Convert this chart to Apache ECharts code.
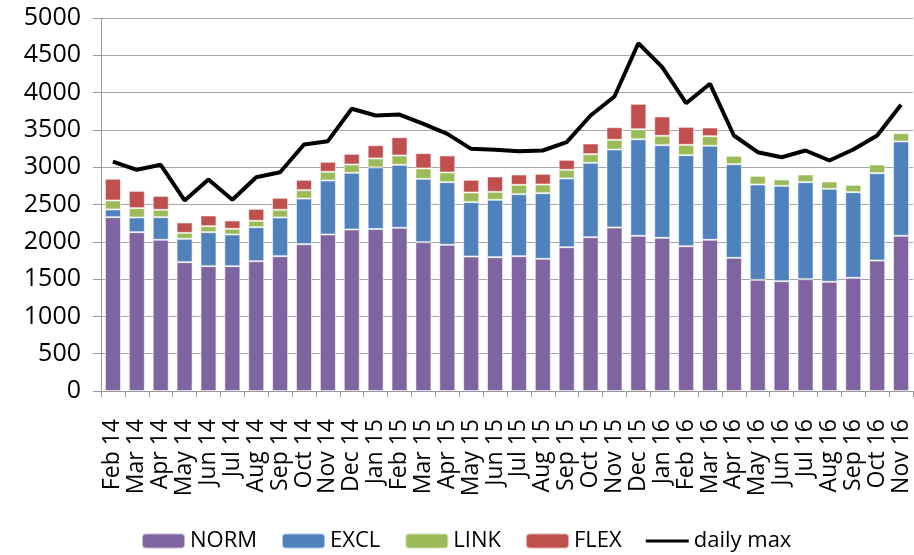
<!DOCTYPE html>
<html>
<head>
<meta charset="utf-8">
<script src="https://cdn.jsdelivr.net/npm/echarts@6/dist/echarts.min.js"></script>
<style>
  html, body { margin: 0; padding: 0; background: #fff; }
  #chart { width: 914px; height: 555px; }
</style>
</head>
<body>
<div id="chart"></div>
<script>
const months = ['Feb 14', 'Mar 14', 'Apr 14', 'May 14', 'Jun 14', 'Jul 14', 'Aug 14', 'Sep 14', 'Oct 14', 'Nov 14', 'Dec 14',
  'Jan 15', 'Feb 15', 'Mar 15', 'Apr 15', 'May 15', 'Jun 15', 'Jul 15', 'Aug 15', 'Sep 15', 'Oct 15', 'Nov 15', 'Dec 15',
  'Jan 16', 'Feb 16', 'Mar 16', 'Apr 16', 'May 16', 'Jun 16', 'Jul 16', 'Aug 16', 'Sep 16', 'Oct 16', 'Nov 16']

const norm = [2330, 2129, 2027, 1727, 1673, 1673, 1740, 1807, 1968, 2098, 2165,
  2172, 2188, 1995, 1960, 1803, 1794, 1807, 1772, 1928, 2062, 2192, 2080,
  2053, 1941, 2027, 1785, 1490, 1472, 1499, 1464, 1517, 1749, 2080]
const excl = [103, 197, 303, 313, 456, 425, 456, 519, 612, 724, 760,
  825, 844, 849, 839, 728, 769, 831, 880, 921, 997, 1045, 1295,
  1242, 1220, 1260, 1255, 1278, 1278, 1300, 1246, 1148, 1171, 1265]
const link = [121, 125, 99, 80, 80, 76, 85, 103, 112, 116, 111,
  120, 125, 139, 130, 130, 107, 126, 116, 116, 116, 130, 134,
  126, 139, 129, 113, 116, 85, 103, 98, 99, 116, 111]
const flex = [291, 232, 187, 139, 144, 112, 161, 161, 139, 134, 143,
  178, 245, 205, 228, 170, 205, 138, 143, 134, 143, 169, 341,
  259, 241, 116, null, null, null, null, null, null, null, null]
const dailyMax = [3076, 2965, 3032, 2554, 2835, 2563, 2866, 2933, 3304, 3349, 3783,
  3693, 3706, 3581, 3447, 3246, 3233, 3215, 3224, 3336, 3693, 3948, 4662,
  4341, 3858, 4118, 3425, 3201, 3134, 3224, 3090, 3237, 3425, 3836]

const chart = echarts.init(document.getElementById('chart'))
const font = 'Open Sans'

// thin horizontal bar, with tiny corner points so the icon box keeps its size
const lineIcon = 'path://M0,0L0.1,0L0,0.1Z M0,6L43,6L43,9L0,9Z M43,15L42.9,15L43,14.9Z'

function barSeries(name, data, color) {
  return {
    name: name,
    type: 'bar',
    stack: 'total',
    data: data,
    barCategoryGap: '33%',
    itemStyle: { color: color, borderColor: 'rgba(255,255,255,0.55)', borderWidth: 1 },
  }
}

chart.setOption({
  animation: false,
  textStyle: { fontFamily: font },
  grid: { left: 101, right: 1, top: 18, bottom: 164 },
  legend: {
    left: 136,
    bottom: -2,
    itemWidth: 43,
    itemHeight: 15,
    itemGap: 24,
    textStyle: { fontSize: 22, color: '#000', fontFamily: font },
    data: ['NORM', 'EXCL', 'LINK', 'FLEX', { name: 'daily max', icon: lineIcon }],
  },
  xAxis: {
    type: 'category',
    data: months,
    axisLine: { lineStyle: { color: '#999', width: 1 } },
    axisTick: { show: true, length: 6, lineStyle: { color: '#999' } },
    axisLabel: { rotate: 90, fontSize: 23, color: '#000', margin: 28, interval: 0 },
  },
  yAxis: {
    type: 'value',
    min: 0,
    max: 5000,
    interval: 500,
    axisLine: { show: true, lineStyle: { color: '#999', width: 1 } },
    axisTick: { show: true, length: 8, inside: false, lineStyle: { color: '#999' } },
    splitLine: { lineStyle: { color: '#a6a6a6', width: 1 } },
    axisLabel: { fontSize: 25, color: '#000', margin: 20, formatter: v => String(v) },
  },
  series: [
    barSeries('NORM', norm, '#8064A2'),
    barSeries('EXCL', excl, '#4F81BD'),
    barSeries('LINK', link, '#9BBB59'),
    barSeries('FLEX', flex, '#C0504D'),
    {
      name: 'daily max',
      type: 'line',
      data: dailyMax,
      symbol: 'none',
      lineStyle: { color: '#000', width: 4 },
      itemStyle: { color: '#000' },
    },
  ],
})
</script>
</body>
</html>
